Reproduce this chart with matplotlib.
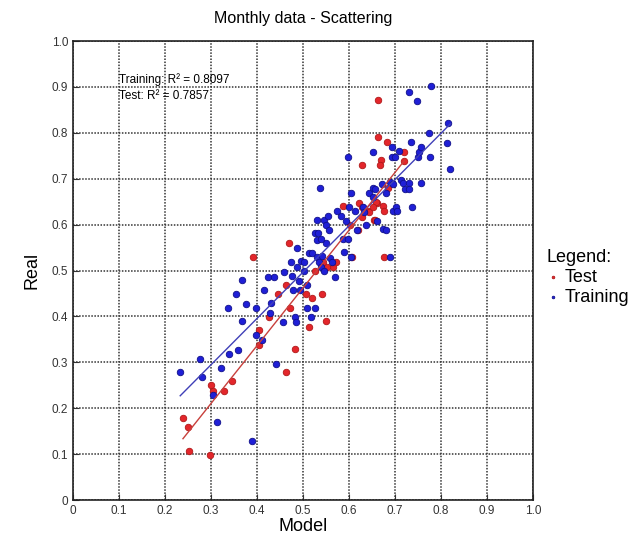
import numpy as np
import matplotlib
matplotlib.use("Agg")
import matplotlib.pyplot as plt

plt.rcParams['font.family'] = ['Liberation Sans', 'DejaVu Sans']

# Test set (model, real)
test_model = [0.239, 0.250, 0.252, 0.298, 0.300, 0.304, 0.328, 0.346, 0.404, 0.404,
              0.426, 0.463, 0.483, 0.472, 0.446, 0.463, 0.507, 0.520, 0.513, 0.391,
              0.470, 0.587, 0.622, 0.628, 0.661, 0.674, 0.641, 0.602, 0.620, 0.654,
              0.607, 0.676, 0.572, 0.565, 0.552, 0.543, 0.526, 0.541, 0.550, 0.663,
              0.663, 0.683, 0.720, 0.670, 0.667, 0.628, 0.720, 0.685, 0.659, 0.643,
              0.676, 0.652, 0.628, 0.657]
test_real = [0.179, 0.159, 0.107, 0.098, 0.251, 0.237, 0.237, 0.259, 0.370, 0.338,
             0.399, 0.279, 0.329, 0.418, 0.449, 0.468, 0.449, 0.440, 0.377, 0.529,
             0.560, 0.641, 0.647, 0.638, 0.647, 0.641, 0.630, 0.599, 0.588, 0.610,
             0.529, 0.529, 0.519, 0.508, 0.508, 0.519, 0.499, 0.449, 0.390, 0.871,
             0.791, 0.780, 0.758, 0.741, 0.730, 0.730, 0.739, 0.680, 0.649, 0.627,
             0.630, 0.638, 0.617, 0.610]

# Training set (model, real)
train_model = [0.233, 0.276, 0.280, 0.304, 0.313, 0.322, 0.339, 0.359, 0.389, 0.398,
               0.411, 0.441, 0.367, 0.337, 0.354, 0.367, 0.376, 0.398, 0.415, 0.428,
               0.430, 0.424, 0.437, 0.459, 0.476, 0.457, 0.483, 0.485, 0.478, 0.493,
               0.491, 0.509, 0.509, 0.526, 0.517, 0.474, 0.487, 0.496, 0.502, 0.502,
               0.487, 0.513, 0.520, 0.530, 0.530, 0.526, 0.533, 0.530, 0.537, 0.541,
               0.559, 0.535, 0.563, 0.539, 0.546, 0.570, 0.550, 0.539, 0.587, 0.598,
               0.589, 0.604, 0.689, 0.546, 0.554, 0.583, 0.593, 0.550, 0.557, 0.574,
               0.600, 0.613, 0.630, 0.617, 0.637, 0.661, 0.674, 0.680, 0.696, 0.702,
               0.704, 0.737, 0.633, 0.643, 0.652, 0.657, 0.652, 0.680, 0.672, 0.689,
               0.696, 0.713, 0.717, 0.730, 0.757, 0.722, 0.730, 0.604, 0.598, 0.652,
               0.693, 0.709, 0.693, 0.700, 0.735, 0.750, 0.752, 0.757, 0.776, 0.774,
               0.813, 0.815, 0.820, 0.778, 0.730, 0.748]
train_real = [0.279, 0.307, 0.268, 0.229, 0.170, 0.288, 0.318, 0.327, 0.129, 0.359,
              0.349, 0.296, 0.390, 0.418, 0.449, 0.479, 0.427, 0.418, 0.458, 0.407,
              0.429, 0.486, 0.486, 0.497, 0.488, 0.388, 0.399, 0.388, 0.458, 0.458,
              0.477, 0.468, 0.418, 0.418, 0.399, 0.519, 0.508, 0.521, 0.519, 0.499,
              0.549, 0.538, 0.538, 0.529, 0.566, 0.582, 0.582, 0.610, 0.680, 0.532,
              0.527, 0.519, 0.519, 0.508, 0.499, 0.486, 0.560, 0.569, 0.569, 0.569,
              0.540, 0.529, 0.529, 0.610, 0.619, 0.619, 0.608, 0.599, 0.588, 0.630,
              0.638, 0.630, 0.638, 0.588, 0.599, 0.608, 0.590, 0.588, 0.630, 0.638,
              0.630, 0.638, 0.627, 0.669, 0.680, 0.678, 0.660, 0.669, 0.688, 0.693,
              0.688, 0.697, 0.691, 0.691, 0.691, 0.678, 0.678, 0.669, 0.747, 0.758,
              0.769, 0.760, 0.747, 0.747, 0.780, 0.747, 0.758, 0.769, 0.747, 0.800,
              0.778, 0.821, 0.721, 0.902, 0.889, 0.869]

r2_train = 0.8097
r2_test = 0.7857

red = '#e3262b'
blue = '#1f1fd6'

fig = plt.figure(figsize=(6.44, 5.37), dpi=100)
ax = fig.add_axes([0.1134, 0.0689, 0.7143, 0.8547])

ax.scatter(test_model, test_real, s=22, color=red, edgecolors='#b01818',
           linewidths=0.6, zorder=3, label='Test')
ax.scatter(train_model, train_real, s=22, color=blue, edgecolors='#10108a',
           linewidths=0.6, zorder=3, label='Training')

# linear fits
for xs, ys, c in [(train_model, train_real, '#4040b8'), (test_model, test_real, '#c8403c')]:
    xs = np.array(xs)
    k, b = np.polyfit(xs, np.array(ys), 1)
    xx = np.array([xs.min(), xs.max()])
    ax.plot(xx, k * xx + b, color=c, lw=1.0, zorder=4)

ax.set_xlim(0, 1)
ax.set_ylim(0, 1)
ticks = np.arange(0, 1.01, 0.1)
labels = ['0'] + [f'{t:.1f}' for t in ticks[1:]]
ax.set_xticks(ticks)
ax.set_xticklabels(labels)
ax.set_yticks(ticks)
ax.set_yticklabels(labels)
ax.tick_params(direction='in', length=4, width=0.8, labelsize=8.5, colors='#333333')
ax.grid(True, color='#333333', linestyle=(0, (1, 1)), linewidth=1.1)
for sp in ax.spines.values():
    sp.set_linewidth(1.2)
    sp.set_color('#222222')

ax.text(0.1, 0.915, f'Training: R\u00b2 = {r2_train}', fontsize=8.5, va='center', zorder=5)
ax.text(0.1, 0.880, f'Test: R\u00b2 = {r2_test}', fontsize=8.5, va='center', zorder=5)

ax.set_title('Monthly data - Scattering', fontsize=11.5, pad=13)
ax.set_xlabel('Model', fontsize=13, labelpad=1)
ax.set_ylabel('Real', fontsize=13, labelpad=8)

leg = ax.legend(loc='center left', bbox_to_anchor=(1.005, 0.485), frameon=False,
                title='Legend:', title_fontsize=13, fontsize=13, markerscale=0.4,
                handletextpad=0.2, handlelength=0.8, borderaxespad=0.2,
                labelspacing=0.15, alignment='left')

fig.savefig('out.png', dpi=100)
